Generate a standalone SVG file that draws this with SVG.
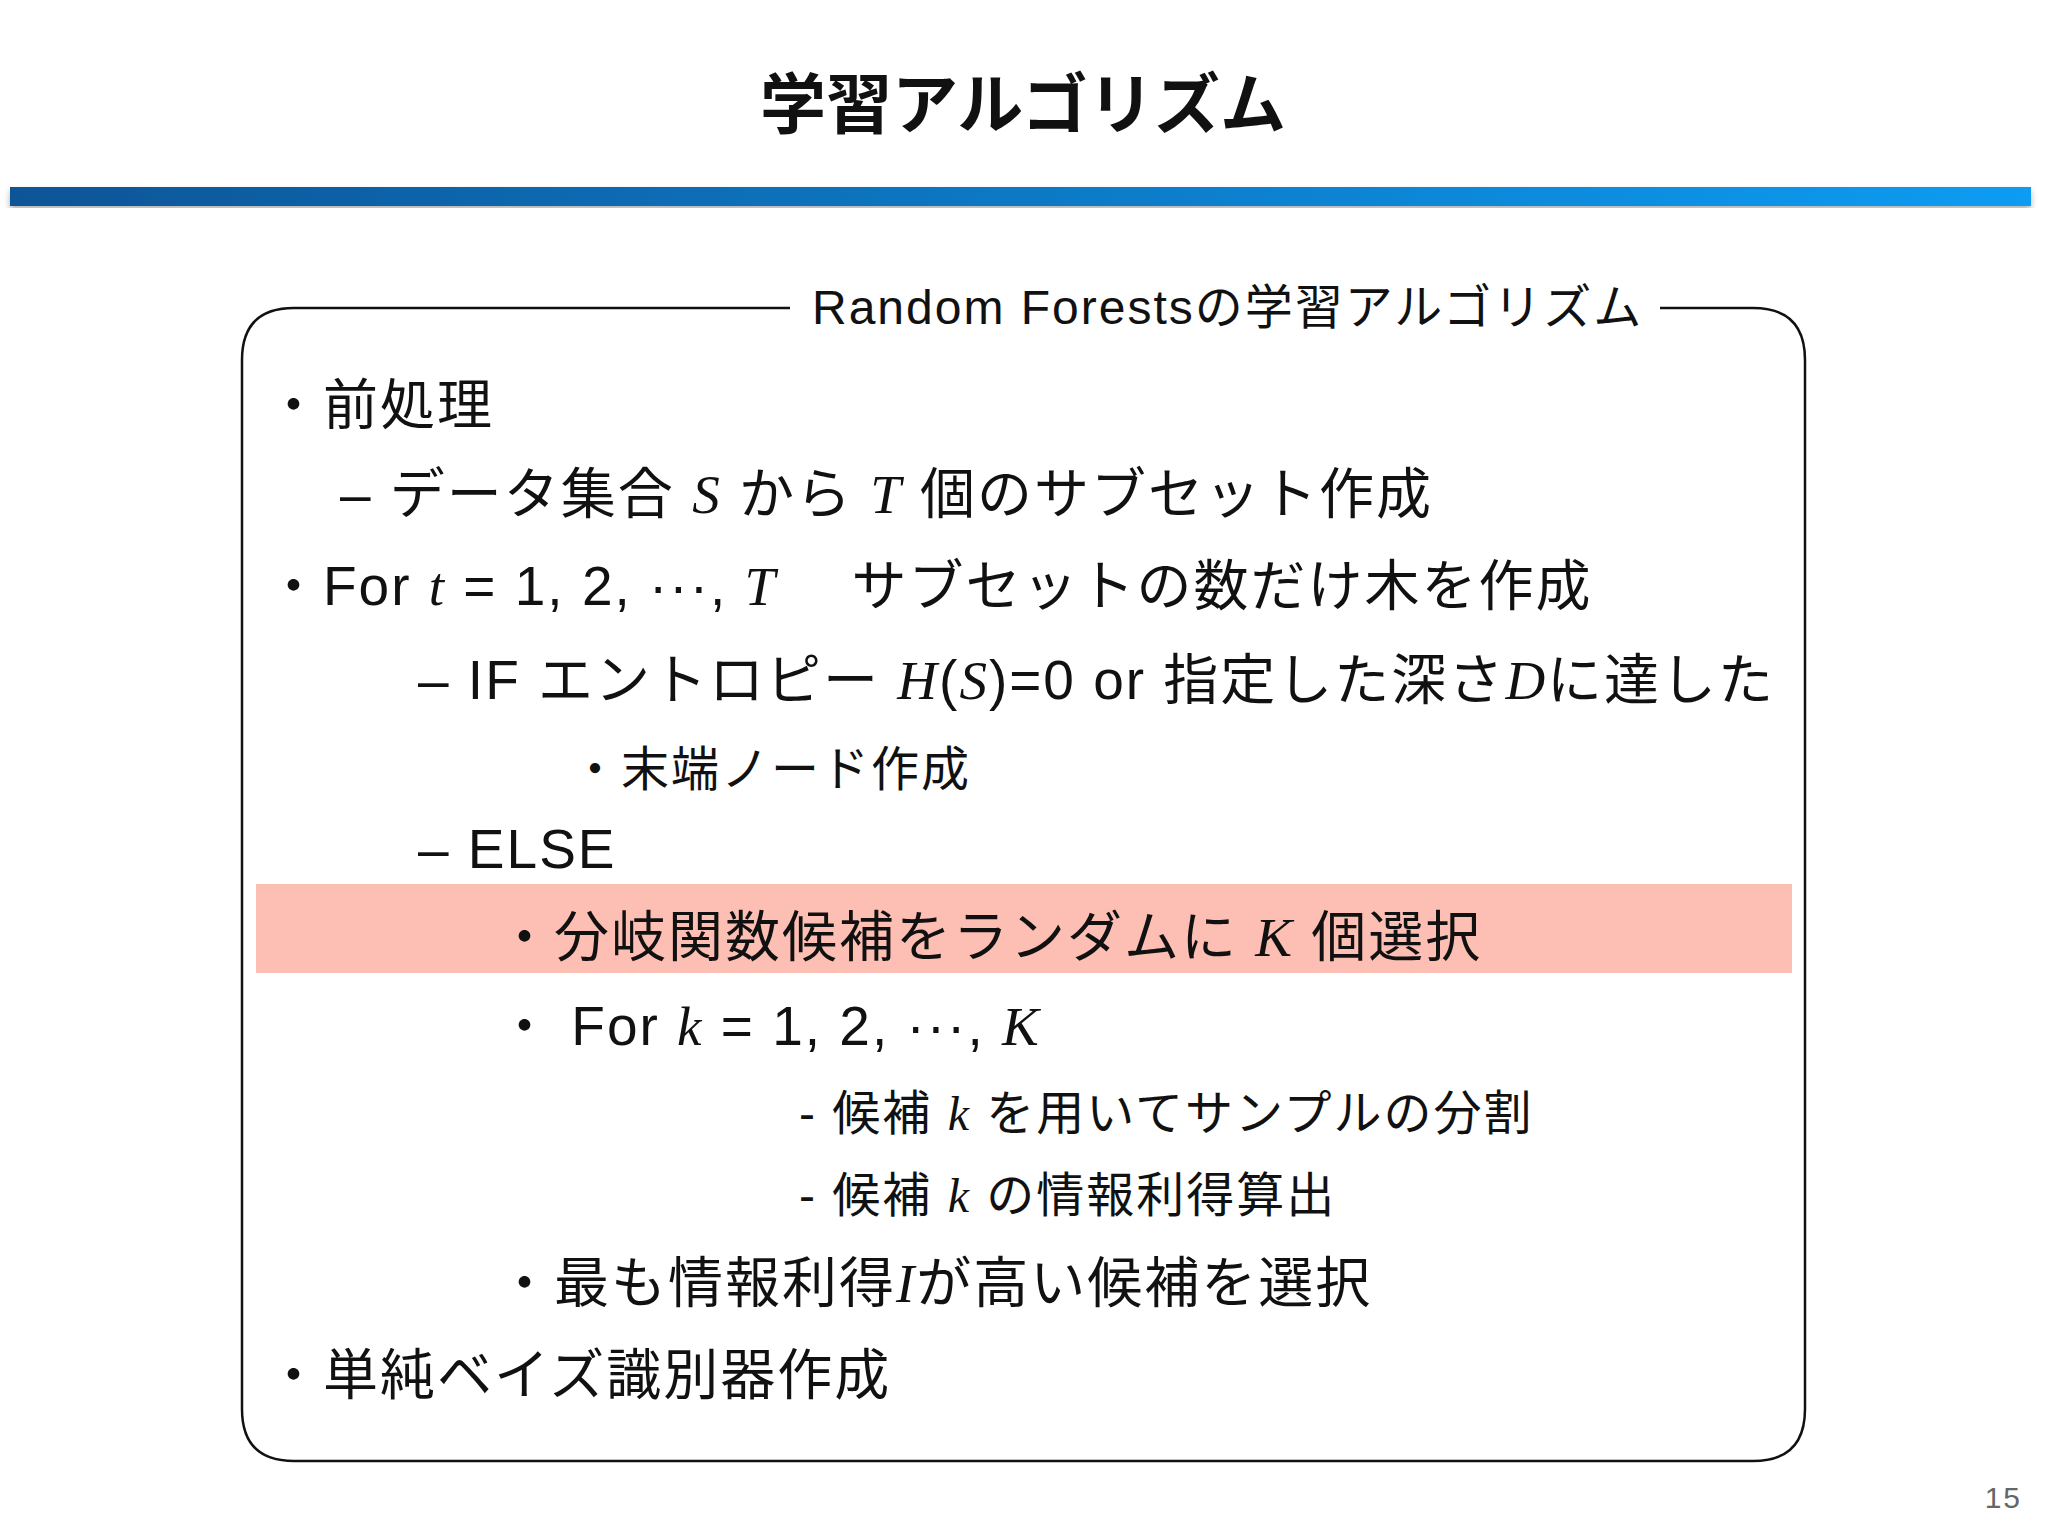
<svg xmlns="http://www.w3.org/2000/svg" width="2048" height="1536" viewBox="0 0 2048 1536">
<defs>
<linearGradient id="bar" x1="0" x2="1" y1="0" y2="0"><stop offset="0" stop-color="#0A5597"/><stop offset="1" stop-color="#0A9CF2"/></linearGradient>
<filter id="sh"><feDropShadow dx="0" dy="4" stdDeviation="3" flood-opacity="0.3"/></filter>
</defs>
<style>
text{font-family:"Liberation Sans","Noto Sans CJK JP",sans-serif;fill:#111;letter-spacing:2px}
.l{font-size:55px}
.s{font-size:48px}
.m{font-family:"Liberation Serif",serif;font-style:italic}
</style>
<rect width="2048" height="1536" fill="#fff"/>
<g id="title"><text x="1023" y="128" font-size="66" font-weight="bold" text-anchor="middle" style="font-family:'Noto Sans CJK JP',sans-serif;letter-spacing:0">学習アルゴリズム</text></g>
<rect x="10" y="187" width="2021" height="19" fill="url(#bar)" filter="url(#sh)"/>
<g id="box">
<path d="M790 308 H294 Q242 308 242 360 V1409 Q242 1461 294 1461 H1753 Q1805 1461 1805 1409 V360 Q1805 308 1753 308 H1660" fill="none" stroke="#111" stroke-width="2.5"/>
<text x="812" y="324" font-size="48">Random Forestsの学習アルゴリズム</text>
</g>
<rect x="256" y="884" width="1536" height="89" fill="#FDBFB3"/>
<g id="lines">
<text class="l" x="266" y="424">・前処理</text>
<text class="l" x="340" y="513">– データ集合 <tspan class="m">S</tspan> から <tspan class="m">T</tspan> 個のサブセット作成</text>
<text class="l" x="266" y="605">・For <tspan class="m">t</tspan> = 1, 2, ···, <tspan class="m">T</tspan>　 サブセットの数だけ木を作成</text>
<text class="l" x="418" y="699">– IF エントロピー <tspan class="m">H</tspan>(<tspan class="m">S</tspan>)=0 or 指定した深さ<tspan class="m">D</tspan>に達した</text>
<text class="s" x="571" y="786">・末端ノード作成</text>
<text class="l" x="418" y="868">– ELSE</text>
<text class="l" x="497" y="956">・分岐関数候補をランダムに <tspan class="m">K</tspan> 個選択</text>
<text class="l" x="497" y="1045">・ For <tspan class="m">k</tspan> = 1, 2, ···, <tspan class="m">K</tspan></text>
<text class="s" x="799" y="1130">- 候補 <tspan class="m">k</tspan> を用いてサンプルの分割</text>
<text class="s" x="799" y="1212">- 候補 <tspan class="m">k</tspan> の情報利得算出</text>
<text class="l" x="497" y="1302">・最も情報利得<tspan class="m">I</tspan>が高い候補を選択</text>
<text class="l" x="266" y="1394">・単純ベイズ識別器作成</text>
</g>
<text x="2022" y="1508" font-size="30" text-anchor="end" style="fill:#666">15</text>
</svg>
